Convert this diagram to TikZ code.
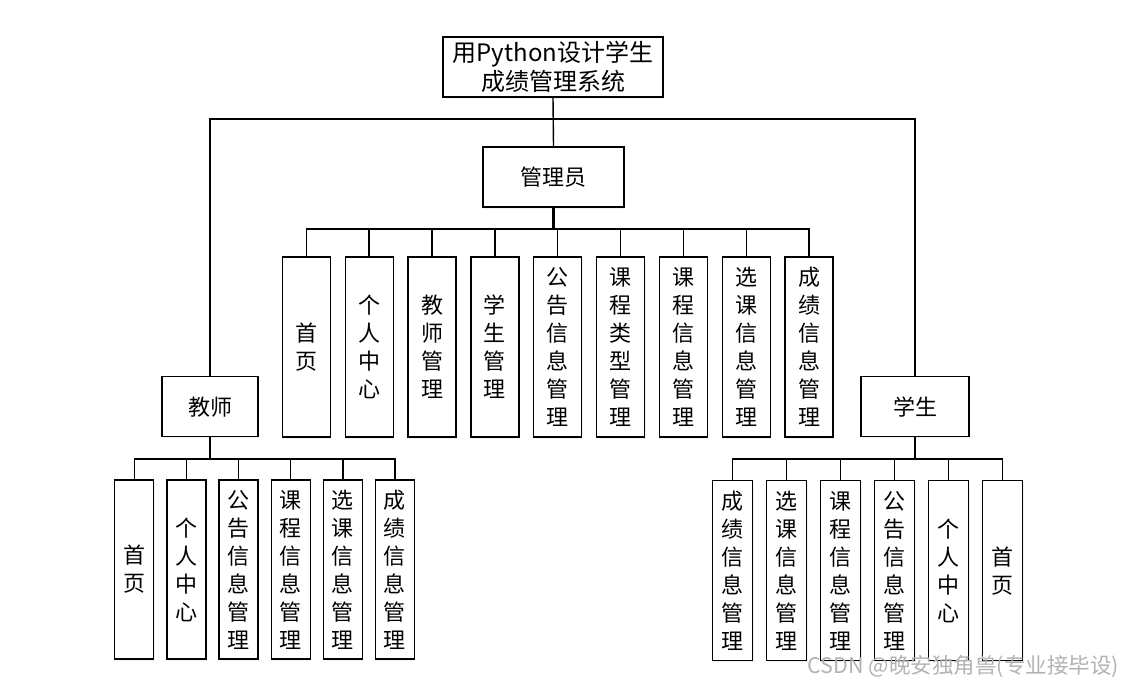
\documentclass[tikz,border=0pt]{standalone}
\usepackage{fontspec}
\setmainfont{Noto Sans CJK SC}
\newfontfamily\cjk{Noto Sans CJK SC}
\usetikzlibrary{shadows}
\begin{document}
\begin{tikzpicture}[x=1pt,y=-1pt,
  box/.style={draw=black,line width=1.3pt,fill=white,inner sep=0pt,align=center,
    drop shadow={fill=blue!25,opacity=0.25,shadow xshift=1pt,shadow yshift=-1.5pt}},
  vbox/.style={box,font=\cjk\fontsize{22}{28}\selectfont},
  link/.style={line width=1.4pt},
  stem/.style={line width=2.2pt}]
\useasboundingbox (0,0) rectangle (1125,689);
% top level
\node[box,minimum width=220pt,minimum height=60pt,font=\cjk\fontsize{24}{29}\selectfont] (top) at (553,67) {用Python设计学生\\成绩管理系统};
\node[box,minimum width=141pt,minimum height=60pt,font=\cjk\fontsize{22}{28}\selectfont] (admin) at (553.5,177) {管理员};
\node[box,minimum width=96pt,minimum height=60pt,font=\cjk\fontsize{22}{28}\selectfont] (teacher) at (210,406.7) {教师};
\node[box,minimum width=108pt,minimum height=60pt,font=\cjk\fontsize{22}{28}\selectfont] (student) at (915,406.7) {学生};
\coordinate (j) at (553,119);
\draw[link] (top.south) -- (admin.north);
\draw[link] (teacher.north) |- (j) -| (student.north);
% admin children
\foreach \t [count=\i from 0] in {首\\页,个\\人\\中\\心,教\\师\\管\\理,学\\生\\管\\理,公\\告\\信\\息\\管\\理,课\\程\\类\\型\\管\\理,课\\程\\信\\息\\管\\理,选\\课\\信\\息\\管\\理,成\\绩\\信\\息\\管\\理}{
  \node[vbox,minimum width=48pt,minimum height=180pt] (a\i) at ({306.3+62.85*\i},347) {\t};
}
\coordinate (ab) at (553.5,229);
\draw[stem] (admin.south) -- (ab);
\foreach \i in {0,...,8}{\draw[link] (a\i.north) |- (ab);}
% teacher children
\foreach \t [count=\i from 0] in {首\\页,个\\人\\中\\心,公\\告\\信\\息\\管\\理,课\\程\\信\\息\\管\\理,选\\课\\信\\息\\管\\理,成\\绩\\信\\息\\管\\理}{
  \node[vbox,minimum width=39pt,minimum height=179pt] (t\i) at ({134.2+52.15*\i},569.5) {\t};
}
\coordinate (tb) at (210,459);
\draw[stem] (teacher.south) -- (tb);
\foreach \i in {0,...,5}{\draw[link] (t\i.north) |- (tb);}
% student children
\foreach \t [count=\i from 0] in {成\\绩\\信\\息\\管\\理,选\\课\\信\\息\\管\\理,课\\程\\信\\息\\管\\理,公\\告\\信\\息\\管\\理,个\\人\\中\\心,首\\页}{
  \node[vbox,minimum width=40.4pt,minimum height=180pt] (s\i) at ({732.5+54*\i},570.8) {\t};
}
\coordinate (sb) at (915,459);
\draw[stem] (student.south) -- (sb);
\foreach \i in {0,...,5}{\draw[link] (s\i.north) |- (sb);}
% watermark
\node[anchor=east,text=black!30,font=\cjk\fontsize{21.5}{24}\selectfont,inner sep=0pt] (wm) at (1119,667) {CSDN @晚安独角兽(专业接毕设)};
\end{tikzpicture}
\end{document}
